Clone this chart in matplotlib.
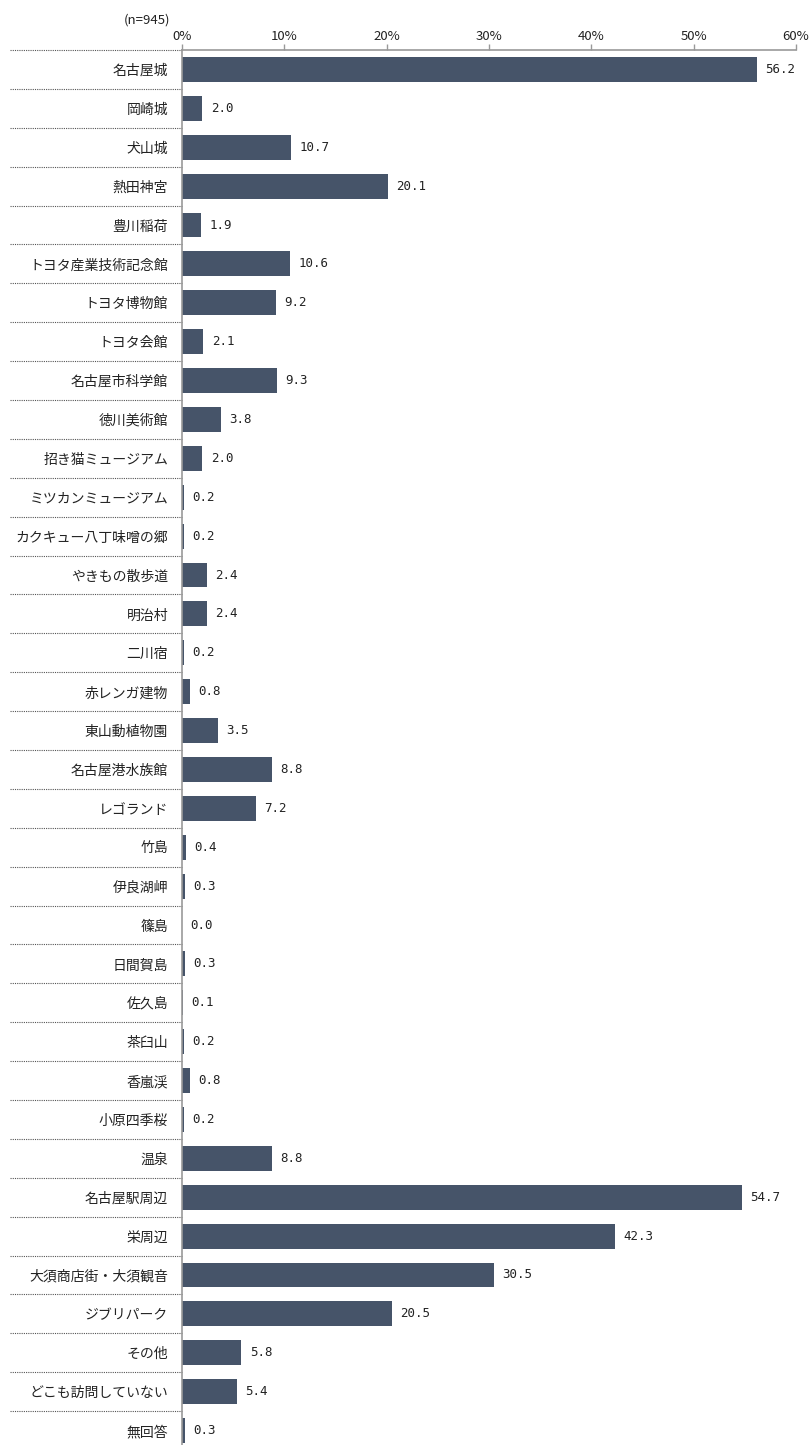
import matplotlib
matplotlib.use("Agg")
import matplotlib.pyplot as plt
import matplotlib.transforms as mtransforms
import numpy as np

plt.rcParams['font.family'] = ['Noto Sans CJK JP', 'DejaVu Sans']

# survey data (n=945)
places = [
    "名古屋城", "岡崎城", "犬山城", "熱田神宮", "豊川稲荷",
    "トヨタ産業技術記念館", "トヨタ博物館", "トヨタ会館", "名古屋市科学館",
    "徳川美術館", "招き猫ミュージアム", "ミツカンミュージアム",
    "カクキュー八丁味噌の郷", "やきもの散歩道", "明治村", "二川宿",
    "赤レンガ建物", "東山動植物園", "名古屋港水族館", "レゴランド",
    "竹島", "伊良湖岬", "篠島", "日間賀島", "佐久島", "茶臼山", "香嵐渓",
    "小原四季桜", "温泉", "名古屋駅周辺", "栄周辺", "大須商店街・大須観音",
    "ジブリパーク", "その他", "どこも訪問していない", "無回答",
]
percent = [
    56.2, 2.0, 10.7, 20.1, 1.9,
    10.6, 9.2, 2.1, 9.3,
    3.8, 2.0, 0.2,
    0.2, 2.4, 2.4, 0.2,
    0.8, 3.5, 8.8, 7.2,
    0.4, 0.3, 0.0, 0.3, 0.1, 0.2, 0.8,
    0.2, 8.8, 54.7, 42.3, 30.5,
    20.5, 5.8, 5.4, 0.3,
]
xticks = [0, 10, 20, 30, 40, 50, 60]

fig = plt.figure(figsize=(8.1, 14.45), dpi=100)
W, H = 810, 1445
left, right, top, bottom = 182, 796, 50, 1450
ax = fig.add_axes([left / W, 1 - bottom / H, (right - left) / W, (bottom - top) / H])

y = np.arange(len(places))
ax.barh(y, percent, height=0.64, color="#465469", zorder=2)
for yi, v in zip(y, percent):
    ax.annotate(f"{v:.1f}", (v, yi), xytext=(6, 0), textcoords="offset points",
                ha="left", va="center", fontsize=9, family="DejaVu Sans Mono",
                color="#222222")

ax.set_xlim(0, 60)
ax.set_ylim(len(places) - 0.5, -0.5)
ax.xaxis.tick_top()
ax.set_xticks(xticks)
ax.set_xticklabels([f"{t}%" for t in xticks], fontsize=9.5, color="#222222")
ax.tick_params(axis="x", length=4, width=1, color="#999999", pad=1)
ax.set_yticks(y)
ax.set_yticklabels(places, fontsize=10, color="#222222")
ax.tick_params(axis="y", length=0, pad=10)

for s in ["right", "bottom"]:
    ax.spines[s].set_visible(False)
for s in ["top", "left"]:
    ax.spines[s].set_color("#999999")
    ax.spines[s].set_linewidth(1.2)

# dotted separators between the row labels
trans = mtransforms.blended_transform_factory(ax.transAxes, ax.transData)
x0 = (10 - left) / (right - left)
for b in np.arange(len(places)) - 0.5:
    ax.plot([x0, 0], [b, b], transform=trans, clip_on=False,
            color="#555555", linestyle=(0, (1, 1)), linewidth=0.8)

fig.text(124 / W, 1 - 20 / H, "(n=945)", fontsize=9.5, color="#222222",
         ha="left", va="center")

fig.savefig("out.png", dpi=100)
